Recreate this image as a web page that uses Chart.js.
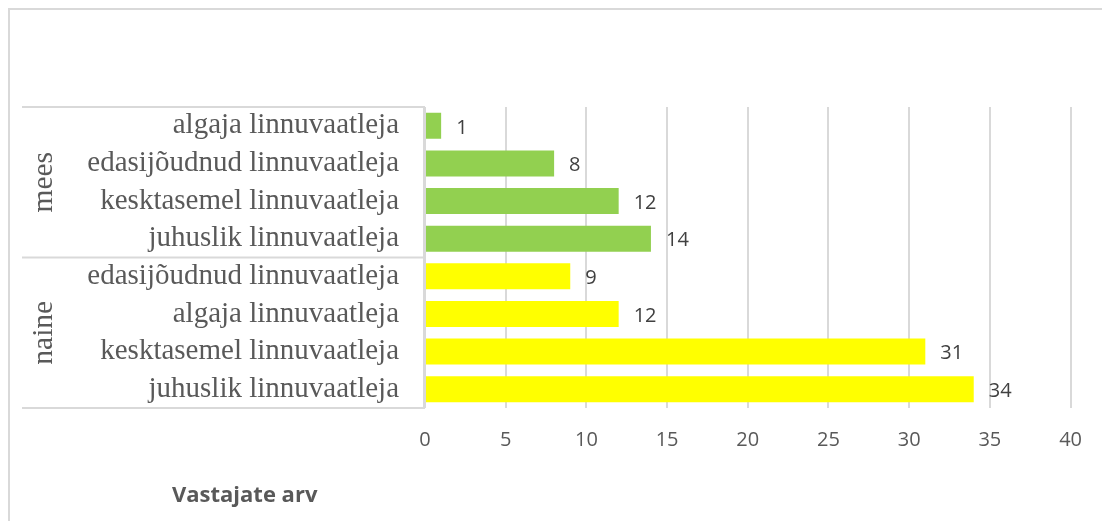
<!DOCTYPE html>
<html>
<head>
<meta charset="utf-8">
<script src="https://cdn.jsdelivr.net/npm/chart.js@4/dist/chart.umd.min.js"></script>
<style>
  html, body { margin: 0; padding: 0; background: #ffffff; }
  .frame {
    position: absolute; left: 8px; top: 8px; width: 1200px; height: 600px;
    border-top: 2px solid #d9d9d9; border-left: 2px solid #d9d9d9;
  }
  .chart-container { position: absolute; left: 0; top: 0; width: 1102px; height: 521px; }
</style>
</head>
<body>
<div class="frame"></div>
<div class="chart-container">
  <canvas id="chart-respondents" width="1102" height="521"></canvas>
</div>
<script>
// Chart data
const categoryLabels = [
  "algaja linnuvaatleja",
  "edasijõudnud linnuvaatleja",
  "kesktasemel linnuvaatleja",
  "juhuslik linnuvaatleja",
  "edasijõudnud linnuvaatleja",
  "algaja linnuvaatleja",
  "kesktasemel linnuvaatleja",
  "juhuslik linnuvaatleja"
];
const groupLabels = ["mees", "naine"];
const groupSizes = [4, 4];
const respondentValues = [1, 8, 12, 14, 9, 12, 31, 34];
const groupColors = ["#92d050", "#ffff00"];
const axisTickValues = [0, 5, 10, 15, 20, 25, 30, 35, 40];
const axisTitle = "Vastajate arv";

const textColor = "#595959";
const lineColor = "#d9d9d9";

// Bar colour follows its group
const barColors = [];
groupSizes.forEach((size, g) => {
  for (let i = 0; i < size; i++) barColors.push(groupColors[g]);
});

// Value labels right of each bar
const valueLabels = {
  id: "valueLabels",
  afterDatasetsDraw(chart) {
    const ctx = chart.ctx;
    const meta = chart.getDatasetMeta(0);
    ctx.save();
    ctx.font = "20px 'Open Sans', sans-serif";
    ctx.fillStyle = "#404040";
    ctx.textAlign = "left";
    ctx.textBaseline = "middle";
    meta.data.forEach((bar, i) => {
      ctx.fillText(String(chart.data.datasets[0].data[i]), bar.x + 15, bar.y + 2);
    });
    ctx.restore();
  }
};

// Multi-level category table: group lines and rotated group names
const groupTable = {
  id: "groupTable",
  afterDraw(chart) {
    const ctx = chart.ctx;
    const y = chart.scales.y;
    const area = chart.chartArea;
    const band = (y.getPixelForValue(1) - y.getPixelForValue(0));
    const lineLeft = 22;

    ctx.save();
    ctx.strokeStyle = lineColor;
    ctx.lineWidth = 2;

    // vertical line at the axis
    ctx.beginPath();
    ctx.moveTo(area.left - 1, area.top);
    ctx.lineTo(area.left - 1, area.bottom);
    ctx.stroke();

    let start = 0;
    const bounds = [y.getPixelForValue(0) - band / 2];
    groupSizes.forEach((size) => {
      start += size;
      bounds.push(y.getPixelForValue(start - 1) + band / 2);
    });
    bounds.forEach((b) => {
      ctx.beginPath();
      ctx.moveTo(lineLeft, b);
      ctx.lineTo(area.left, b);
      ctx.stroke();
    });

    ctx.fillStyle = textColor;
    ctx.font = "29.5px 'Liberation Serif', serif";
    ctx.textAlign = "center";
    ctx.textBaseline = "middle";
    groupLabels.forEach((label, g) => {
      const mid = (bounds[g] + bounds[g + 1]) / 2;
      ctx.save();
      ctx.translate(44, mid);
      ctx.rotate(-Math.PI / 2);
      ctx.fillText(label, 0, 0);
      ctx.restore();
    });

    // axis title
    ctx.font = "bold 22px 'Open Sans', sans-serif";
    ctx.textAlign = "left";
    ctx.textBaseline = "alphabetic";
    ctx.fillText(axisTitle, 172, 502);
    ctx.restore();
  }
};

const ctx = document.getElementById("chart-respondents").getContext("2d");
new Chart(ctx, {
  type: "bar",
  data: {
    labels: categoryLabels,
    datasets: [{
      label: axisTitle,
      data: respondentValues,
      backgroundColor: barColors,
      categoryPercentage: 1,
      barPercentage: 0.69
    }]
  },
  options: {
    indexAxis: "y",
    responsive: false,
    animation: false,
    layout: { padding: { top: 107, right: 30, bottom: 0, left: 0 } },
    plugins: {
      legend: { display: false },
      tooltip: { enabled: false }
    },
    scales: {
      x: {
        min: axisTickValues[0],
        max: axisTickValues[axisTickValues.length - 1],
        afterBuildTicks(scale) {
          scale.ticks = axisTickValues.map((v) => ({ value: v }));
        },
        afterFit(scale) { scale.height = 113; },
        grid: { color: lineColor, lineWidth: 2, drawTicks: false },
        border: { display: false },
        ticks: {
          padding: 20,
          color: textColor,
          font: { family: "'Open Sans', sans-serif", size: 20 }
        }
      },
      y: {
        afterFit(scale) { scale.width = 425; },
        grid: { display: false, drawTicks: false },
        border: { display: false },
        ticks: {
          padding: 26,
          color: textColor,
          autoSkip: false,
          font: { family: "'Liberation Serif', serif", size: 29 }
        }
      }
    }
  },
  plugins: [valueLabels, groupTable]
});
</script>
</body>
</html>
